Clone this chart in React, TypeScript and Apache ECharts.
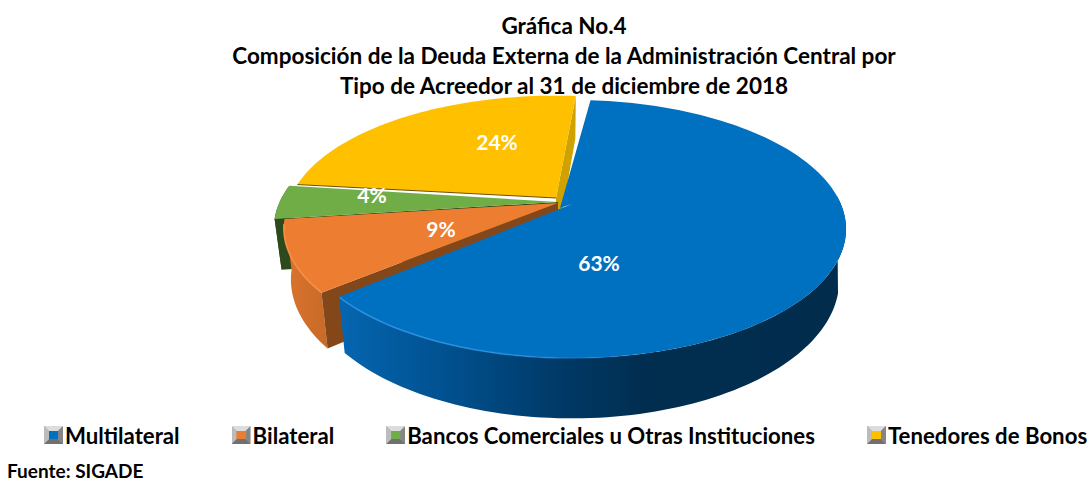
import React, { useEffect, useRef } from "react";
import * as echarts from "echarts";

const categories = ["Tenedores de Bonos", "Bancos Comerciales u Otras Instituciones", "Bilateral", "Multilateral"];
const legendOrder = ["Multilateral", "Bilateral", "Bancos Comerciales u Otras Instituciones", "Tenedores de Bonos"];
const values = [24, 4, 9, 63];
// clockwise sequence of the pie, starting at the blue slice
const pieOrder = ["Multilateral", "Bilateral", "Bancos Comerciales u Otras Instituciones", "Tenedores de Bonos"];
const titleText = "Gráfica No.4\nComposición de la Deuda Externa de la Administración Central por\nTipo de Acreedor al 31 de diciembre de 2018";
const sourceText = "Fuente: SIGADE";

const FONT = "Lato";
const START = 5; // degrees clockwise from the top
const P = 0.1706, DEPTH = 50, BOTTOM_X = 0.975;

type Look = {
  top: string; rimStops: [number, string][] | null; rimTopFrom: number | null; rimLowFrom: number | null;
  cut: string | null; edge: string | null; edgeFrom: number; edgeTo: number; apexEdge: string | null;
  cx: number; cy: number; rx: number; ry: number; da0: number; da1: number;
  apex: number[][]; lx: number; ly: number;
};
const looks: Record<string, Look> = {
  "Multilateral": {
    top: "#0070C0", rimStops: [[0, "#0566b0"], [0.22, "#00508e"], [0.43, "#003a68"], [0.6, "#012e50"], [1, "#022c4c"]],
    rimTopFrom: 85, rimLowFrom: 105,
    cut: null, edge: "#2b8fe0", edgeFrom: 165, edgeTo: 230, apexEdge: null,
    cx: 572, cy: 207, rx: 270, ry: 125.3, da0: -0.4, da1: -1.5,
    apex: [[560, 208], [572, 204]], lx: 599, ly: 262,
  },
  "Bilateral": {
    top: "#ED7D31", rimStops: [[0, "#d9742e"], [1, "#c86a28"]], rimTopFrom: null, rimLowFrom: null,
    cut: "#84471A", edge: "#f88f45", edgeFrom: 232, edgeTo: 262, apexEdge: null,
    cx: 564, cy: 206, rx: 276, ry: 125.3, da0: 0, da1: 0,
    apex: [[558, 203]], lx: 441, ly: 228,
  },
  "Bancos Comerciales u Otras Instituciones": {
    top: "#70AD47", rimStops: [[0, "#2c4a1b"], [1, "#2c4a1b"]], rimTopFrom: null, rimLowFrom: null,
    cut: "#2c4a1b", edge: null, edgeFrom: 0, edgeTo: 0, apexEdge: null,
    cx: 554, cy: 206, rx: 276, ry: 125.3, da0: 0, da1: 1,
    apex: [[558, 202]], lx: 372, ly: 194,
  },
  "Tenedores de Bonos": {
    top: "#FFC000", rimStops: null, rimTopFrom: null, rimLowFrom: null,
    cut: "#CFA200", edge: null, edgeFrom: 0, edgeTo: 0, apexEdge: "#6b4e00",
    cx: 556, cy: 199, rx: 266, ry: 121, da0: -1.6, da1: 0,
    apex: [[556, 198]], lx: 497, ly: 141,
  },
};

const iconColors: Record<string, string> = {
  "Multilateral": "#0070C0",
  "Bilateral": "#ED7D31",
  "Bancos Comerciales u Otras Instituciones": "#70AD47",
  "Tenedores de Bonos": "#FFC000",
};

const iconFor = (c: string) =>
  "image://data:image/svg+xml;utf8," +
  encodeURIComponent(
    `<svg xmlns="http://www.w3.org/2000/svg" width="19" height="18"><rect width="19" height="18" fill="#a0a0a0"/><polygon points="0,0 19,0 14,5 5,5" fill="#dcdcdc"/><polygon points="0,18 19,18 14,13 5,13" fill="#707070"/><polygon points="0,0 5,5 5,13 0,18" fill="#bcbcbc"/><polygon points="19,0 14,5 14,13 19,18" fill="#858585"/><rect x="5" y="5" width="9" height="8" fill="${c}"/></svg>`
  );

function angleRange(name: string): [number, number] {
  let a = START;
  for (const n of pieOrder) {
    const span = (values[categories.indexOf(n)] / 100) * 360;
    if (n === name) return [a + looks[n].da0, a + span + looks[n].da1];
    a += span;
  }
  return [a, a];
}

function project(deg: number, L: Look, low: boolean): number[] {
  const t = (deg * Math.PI) / 180;
  const u = Math.sin(t), v = -Math.cos(t), w = 1 - P * v;
  const sx = low ? BOTTOM_X : 1;
  return [L.cx + (L.rx * u * sx) / w, L.cy + (L.ry * v) / w + (low ? DEPTH / w : 0)];
}

function arc(a0: number, a1: number, L: Look, low: boolean): number[][] {
  const out: number[][] = [];
  const n = Math.max(4, Math.ceil(Math.abs(a1 - a0) / 1.5));
  for (let i = 0; i <= n; i++) out.push(project(a0 + ((a1 - a0) * i) / n, L, low));
  return out;
}

function makeSeries(name: string) {
  const L = looks[name];
  const value = values[categories.indexOf(name)];
  return {
    type: "custom",
    name,
    coordinateSystem: "none",
    silent: true,
    data: [value],
    renderItem: () => {
      const [a0, a1] = angleRange(name);
      const topArc = arc(a0, a1, L, false);
      const lowArc = arc(a0, a1, L, true);
      const children: any[] = [];
      if (L.rimStops) {
        const rimTop = arc(L.rimTopFrom ?? a0, a1, L, false);
        const rimLow = arc(L.rimLowFrom ?? a0, a1, L, true);
        children.push({
          type: "polygon",
          shape: { points: [...rimTop, ...rimLow.slice().reverse()] },
          style: { fill: new echarts.graphic.LinearGradient(0, 0, 1, 0, L.rimStops.map(([offset, color]) => ({ offset, color }))) },
        });
      }
      const first = L.apex[0];
      if (L.cut) {
        const atEnd = name === "Tenedores de Bonos";
        const outer = atEnd ? topArc[topArc.length - 1] : topArc[0];
        const outerLow = atEnd ? lowArc[lowArc.length - 1] : lowArc[0];
        children.push({
          type: "polygon",
          shape: { points: [first, outer, outerLow, [first[0], first[1] + DEPTH]] },
          style: { fill: L.cut },
        });
      }
      children.push({ type: "polygon", shape: { points: [...L.apex.slice().reverse(), ...topArc] }, style: { fill: L.top } });
      if (L.edge) {
        children.push({
          type: "polyline",
          shape: { points: arc(L.edgeFrom, L.edgeTo, L, false) },
          style: {
            fill: "none", lineWidth: 1.6,
            stroke: name === "Multilateral"
              ? new echarts.graphic.LinearGradient(1, 0, 0, 0, [{ offset: 0, color: "rgba(43,143,224,0)" }, { offset: 0.6, color: L.edge }, { offset: 1, color: L.edge }])
              : L.edge,
          },
        });
      }
      if (L.apexEdge) {
        children.push({ type: "polyline", shape: { points: [topArc[0], first] }, style: { fill: "none", stroke: L.apexEdge, lineWidth: 1 } });
      }
      children.push({
        type: "text",
        style: { text: `${value}%`, x: L.lx, y: L.ly, fill: "#fff", font: `700 21px ${FONT}`, align: "center", verticalAlign: "middle" },
      });
      return { type: "group", children };
    },
  };
}

export default function App() {
  const ref = useRef<HTMLDivElement>(null);
  useEffect(() => {
    const chart = echarts.init(ref.current!, null, { renderer: "svg" });
    chart.setOption({
      animation: false,
      backgroundColor: "#fff",
      title: [
        { text: titleText, left: 559, top: 5, textAlign: "center", textStyle: { fontFamily: FONT, fontWeight: 700, fontSize: 22.5, lineHeight: 30, color: "#000" } },
        { text: sourceText, left: 7, top: 461, padding: 0, textStyle: { fontFamily: FONT, fontWeight: 700, fontSize: 19, color: "#000" } },
      ],
      legend: {
        left: 44, top: 424, padding: 0, itemGap: 52, itemWidth: 19, itemHeight: 18,
        data: legendOrder.map((n) => ({ name: n, icon: iconFor(iconColors[n]) })),
        textStyle: { fontFamily: FONT, fontWeight: 700, fontSize: 22.2, color: "#000", padding: [0, 0, 0, -3] },
      },
      series: categories.map(makeSeries),
    });
    return () => chart.dispose();
  }, []);
  return <div ref={ref} style={{ position: "absolute", left: 0, top: 0, width: 1091, height: 481 }} />;
}
